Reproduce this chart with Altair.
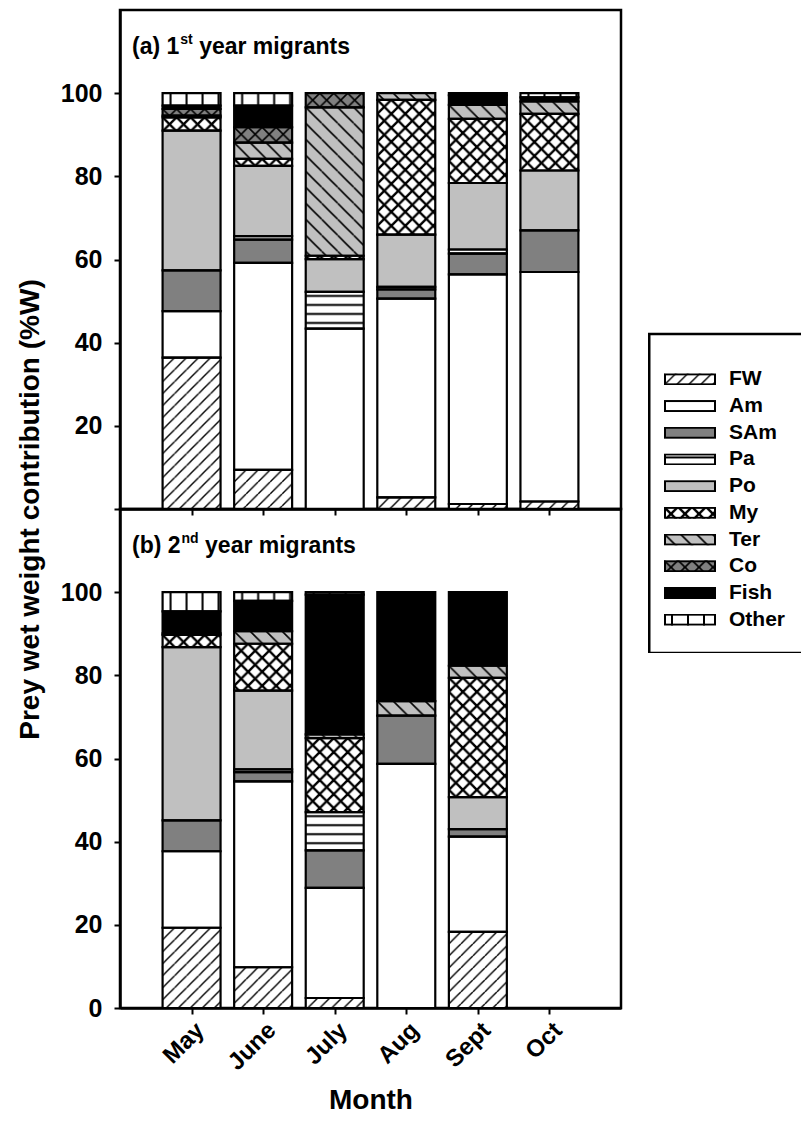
import base64

import altair as alt
import pandas as pd

FONT = "Liberation Sans"

months = ["May", "June", "July", "Aug", "Sept", "Oct"]
prey = ["FW", "Am", "SAm", "Pa", "Po", "My", "Ter", "Co", "Fish", "Other"]

# Prey wet weight contribution (%W), 1st year migrants, one value per month
fw_1st = [36.4, 9.4, 0.0, 2.8, 1.2, 1.8]
am_1st = [11.2, 49.8, 43.4, 47.8, 55.2, 55.2]
sam_1st = [9.8, 5.6, 0.0, 2.2, 5.0, 10.0]
pa_1st = [0.0, 0.8, 8.8, 0.6, 1.0, 0.0]
po_1st = [33.6, 16.9, 7.9, 12.6, 16.0, 14.4]
my_1st = [3.2, 1.7, 0.8, 32.4, 15.4, 13.6]
ter_1st = [0.4, 3.9, 35.7, 1.6, 3.4, 3.0]
co_1st = [1.6, 3.7, 3.4, 0.0, 0.0, 0.0]
fish_1st = [0.8, 5.2, 0.0, 0.0, 2.3, 1.0]
other_1st = [3.0, 3.0, 0.0, 0.0, 0.5, 1.0]

# Prey wet weight contribution (%W), 2nd year migrants (no October sample)
fw_2nd = [19.3, 9.8, 2.4, 0.0, 18.3, 0.0]
am_2nd = [18.4, 44.7, 26.5, 58.7, 22.9, 0.0]
sam_2nd = [7.4, 2.2, 9.0, 11.6, 1.8, 0.0]
pa_2nd = [0.0, 0.7, 9.2, 0.0, 0.0, 0.0]
po_2nd = [41.7, 18.9, 0.0, 0.0, 7.7, 0.0]
my_2nd = [2.9, 11.3, 17.8, 0.0, 28.7, 0.0]
ter_2nd = [0.4, 3.0, 0.9, 3.5, 2.9, 0.0]
co_2nd = [0.0, 0.0, 0.0, 0.0, 0.0, 0.0]
fish_2nd = [5.3, 7.3, 33.6, 26.2, 17.7, 0.0]
other_2nd = [4.6, 2.1, 0.6, 0.0, 0.0, 0.0]

first_year = dict(zip(prey, [fw_1st, am_1st, sam_1st, pa_1st, po_1st,
                             my_1st, ter_1st, co_1st, fish_1st, other_1st]))
second_year = dict(zip(prey, [fw_2nd, am_2nd, sam_2nd, pa_2nd, po_2nd,
                              my_2nd, ter_2nd, co_2nd, fish_2nd, other_2nd]))

# ---- fill styles -------------------------------------------------------
BASE = {"FW": "#ffffff", "Am": "#ffffff", "SAm": "#808080", "Pa": "#ffffff",
        "Po": "#c0c0c0", "My": "#ffffff", "Ter": "#c0c0c0", "Co": "#808080",
        "Fish": "#000000", "Other": "#ffffff"}


def diag(t, rising, width):
    """Diagonal hatch lines for a t x t tile, with neighbours so joins are seamless."""
    segs = []
    for k in (-1, 0, 1):
        if rising:
            segs.append(f"M{k * t},{t}L{k * t + t},0")
        else:
            segs.append(f"M{k * t},0L{k * t + t},{t}")
    return f"<path d='{''.join(segs)}' stroke='#000' stroke-width='{width}' fill='none'/>"


TILES = {
    "FW": (12, 12, diag(12, True, 1.4)),
    "Pa": (12, 9, "<rect x='0' y='3' width='12' height='2' fill='#000'/>"),
    "My": (14, 14, diag(14, True, 2.4) + diag(14, False, 2.4)),
    "Ter": (16, 16, diag(16, False, 1.6)),
    "Co": (14, 14, diag(14, True, 1.6) + diag(14, False, 1.6)),
    "Other": (16, 10, "<rect x='7' y='0' width='2' height='10' fill='#000'/>"),
}


def svg_uri(body):
    return "data:image/svg+xml;base64," + base64.b64encode(body.encode()).decode()


def pattern_def(p):
    tw, th, inner = TILES[p]
    return (f"<defs><pattern id='h' width='{tw}' height='{th}' "
            f"patternUnits='userSpaceOnUse'>{inner}</pattern></defs>")


def bar_pattern(p):
    # hatch overlay that fills whatever box it is drawn into, unscaled
    if p not in TILES:
        return ""
    return svg_uri("<svg xmlns='http://www.w3.org/2000/svg' width='100%' height='100%'>"
                   + pattern_def(p)
                   + "<rect width='100%' height='100%' fill='url(#h)'/></svg>")


def swatch(p, w=52, h=12):
    body = (f"<svg xmlns='http://www.w3.org/2000/svg' width='{w}' height='{h}' "
            f"viewBox='0 0 {w} {h}'>")
    body += f"<rect width='{w}' height='{h}' fill='{BASE[p]}'/>"
    if p in TILES:
        body += pattern_def(p) + f"<rect width='{w}' height='{h}' fill='url(#h)'/>"
    body += (f"<rect x='1' y='1' width='{w - 2}' height='{h - 2}' fill='none' "
             f"stroke='#000' stroke-width='2'/></svg>")
    return svg_uri(body)


def stack_table(table):
    rows = []
    for i, m in enumerate(months):
        base = 0.0
        for p in prey:
            v = table[p][i]
            if v > 0:
                rows.append({"month": m, "pos": i + 1, "prey": p,
                             "y0": base, "y1": base + v, "pattern": bar_pattern(p)})
            base += v
    return pd.DataFrame(rows)


# ---- panels ------------------------------------------------------------
PW, PH = 501, 499
HALF_BAR = 0.405

xscale = alt.Scale(domain=[0, 7], nice=False, zero=False)
yscale = alt.Scale(domain=[0, 120], nice=False)
fill_scale = alt.Scale(domain=prey, range=[BASE[p] for p in prey])
month_expr = f"{months}[datum.value - 1]"


def text_layer(txt, x, y, size):
    return alt.Chart(pd.DataFrame({"t": [txt]})).mark_text(
        align="left", baseline="alphabetic", font=FONT, fontWeight="bold",
        fontSize=size, color="black"
    ).encode(x=alt.value(x), y=alt.value(y), text="t:N")


def panel_label(tag, num, sup):
    main = f"({tag}) {num}"
    w_main = {"a": 2.056, "b": 2.111}[tag] * 23
    w_sup = {"st": 0.889, "nd": 1.222}[sup] * 14
    x0 = 12
    return [
        text_layer(main, x0, 44, 23),
        text_layer(sup, x0 + w_main + 1, 34, 14),
        text_layer("year migrants", x0 + w_main + 1 + w_sup + 6.4, 44, 23),
    ]


def panel(table, tag, num, sup, bottom):
    df = stack_table(table)
    x_axis = alt.Axis(values=list(range(1, 7)), labelExpr=month_expr, labelAngle=-45,
                      labels=bottom, title="Month" if bottom else None,
                      titleFontSize=28, titleY=92, titleBaseline="middle",
                      labelPadding=4, labelFontSize=24)
    y_axis = alt.Axis(values=[0, 20, 40, 60, 80, 100], labelPadding=12,
                      labelExpr="datum.value" if bottom else
                      "datum.value == 0 ? '' : datum.label",
                      title=None if bottom else "Prey wet weight contribution (%W)",
                      titleFontSize=28, titleX=-90, titleY=PH,
                      titleAlign="center", titleBaseline="middle")
    base = alt.Chart(df).transform_calculate(
        xa=f"datum.pos - {HALF_BAR}", xb=f"datum.pos + {HALF_BAR}"
    ).encode(
        x=alt.X("xa:Q", scale=xscale, axis=x_axis),
        x2="xb:Q",
        y=alt.Y("y0:Q", scale=yscale, axis=y_axis),
        y2="y1:Q",
    )
    fills = base.mark_rect(strokeWidth=0).encode(
        color=alt.Color("prey:N", scale=fill_scale, legend=None))
    hatches = base.transform_filter("datum.pattern != ''").mark_image(
        aspect=False).encode(url="pattern:N")
    edges = base.mark_rect(fillOpacity=0, stroke="black", strokeWidth=2.2)
    return alt.layer(fills, hatches, edges, *panel_label(tag, num, sup)).properties(
        width=PW, height=PH)


top = panel(first_year, "a", 1, "st", False)
bottom = panel(second_year, "b", 2, "nd", True)
panels = alt.vconcat(top, bottom, spacing=0, bounds="flush")

# ---- legend (box runs off the right edge, so its right side is clipped) --
LW = 153
BOX_TOP, BOX_BOTTOM = 324, 643
legend_df = pd.DataFrame({"prey": prey, "swatch": [swatch(p) for p in prey]})
ly = alt.Y("prey:N", scale=alt.Scale(domain=prey, range=[BOX_TOP + 32, BOX_TOP + 299]),
           axis=None)
leg_swatch = alt.Chart(legend_df).mark_image(
    width=52, height=12, align="center", baseline="middle"
).encode(x=alt.value(42), y=ly, url="swatch:N")
leg_text = alt.Chart(legend_df).mark_text(
    align="left", baseline="middle", font=FONT, fontWeight="bold",
    fontSize=21, color="black"
).encode(x=alt.value(81), y=ly, text="prey:N")
leg_box = alt.Chart(pd.DataFrame({"k": [0]})).mark_rect(
    fillOpacity=0, stroke="black", strokeWidth=2.5, clip=True
).encode(x=alt.value(1.25), x2=alt.value(LW + 40),
         y=alt.value(BOX_TOP), y2=alt.value(BOX_BOTTOM))
legend = alt.layer(leg_swatch, leg_text, leg_box).properties(
    width=LW, height=BOX_BOTTOM,
    view=alt.ViewBackground(stroke="transparent", strokeWidth=0))

chart = alt.hconcat(panels, legend, spacing=25).properties(
    padding={"left": 14, "top": 8, "right": 0, "bottom": 0}
).configure_view(
    stroke="black", strokeWidth=2.5
).configure_axis(
    domainColor="black", domainWidth=2.5, tickColor="black", tickWidth=2, tickSize=6,
    labelFont=FONT, labelFontWeight="bold", labelFontSize=25, labelColor="black",
    titleFont=FONT, titleFontWeight="bold", titleColor="black", grid=False,
)

chart.save("out.html", embed_options={"renderer": "svg", "actions": False})
